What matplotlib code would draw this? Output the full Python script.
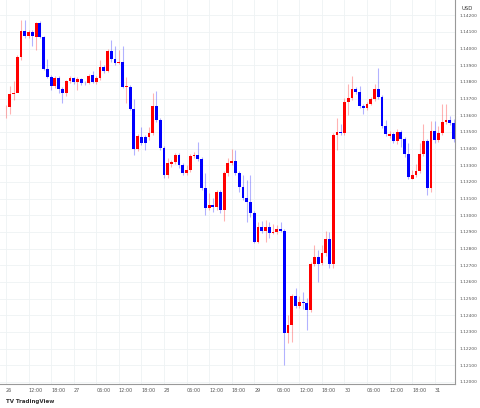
import numpy as np
import matplotlib.pyplot as plt

# hourly candles, price = 1.12000 + value / 10000
opens = [164.7, 165, 172.8, 173.4, 195, 210.6, 207.6, 210, 207, 215.4,
         207, 187.8, 183, 177.6, 182.4, 175.8, 173.4, 180.6, 182.4, 180,
         181.8, 179.4, 179.1, 184.2, 180, 182.4, 189, 186.6, 198.6, 193.8,
         191.4, 192, 177, 177, 163.8, 139.8, 147, 147, 147, 149.4,
         165.6, 157.2, 140.4, 124.2, 130.8, 132, 136.2, 130.2, 125.4, 127.2,
         135.6, 136.2, 133.8, 116.4, 104.4, 106.2, 105, 114, 103.2, 125.4,
         131.4, 132.6, 125.4, 117, 110.4, 108, 101.4, 84, 93, 90.6,
         93, 89.4, 90, 91.8, 90.6, 29.4, 34.2, 51.6, 45.6, 48,
         47.4, 43.2, 70.8, 75, 71.4, 77.4, 85.8, 70.8, 148.2, 150,
         149.4, 168, 170.4, 175.8, 174, 165.6, 164.4, 166.8, 169.8, 175.8,
         171, 153.6, 147.6, 148.8, 144.6, 150, 145.8, 136.8, 121.8, 124.2,
         126.6, 136.8, 144.6, 116.4, 150.6, 145.2, 149.4, 156, 157.2, 155.4]
closes = [165, 172.8, 173.4, 195, 210.6, 207.6, 210, 207.6, 215.4, 207,
          187.8, 183, 177.6, 182.4, 175.8, 173.4, 180.6, 182.4, 180, 181.8,
          179.4, 179.1, 183.6, 180, 182.4, 189, 186.6, 198.6, 193.8, 191.4,
          192, 177, 177.6, 163.8, 139.8, 147.6, 143.4, 143.4, 149.4, 165.6,
          157.2, 140.4, 124.2, 131.4, 132, 136.2, 130.2, 125.4, 127.2, 135.6,
          136.2, 133.8, 116.4, 104.4, 106.2, 105, 114, 103.2, 125.4, 131.4,
          132.6, 125.4, 117, 110.4, 108, 101.4, 84, 93, 90.6, 93,
          89.4, 90, 91.8, 90.6, 29.4, 34.2, 51.6, 45.6, 48, 47.4,
          43.2, 70.8, 75, 70.8, 77.4, 85.8, 70.8, 148.2, 150, 149.4,
          168, 170.4, 175.8, 174, 165.6, 164.4, 166.8, 169.8, 175.8, 171,
          153.6, 148.8, 148.8, 144.6, 150, 145.8, 136.8, 123, 124.2, 126.6,
          136.8, 144.6, 116.4, 150.6, 145.2, 149.4, 156, 157.2, 155.4, 145.8]
highs = [166.2, 177.6, 180.6, 196.2, 217.2, 217.2, 211.2, 211.2, 216, 216.6,
         207.6, 193.8, 184.2, 183.6, 183.6, 177, 181.2, 183.6, 183, 183,
         182.4, 180.6, 184.8, 186.6, 183.6, 193.2, 190.2, 199.8, 205.2, 201.6,
         199.2, 201.6, 183, 178.2, 169.8, 148.8, 153, 148.2, 153, 173.4,
         174.6, 158.4, 141.6, 134.4, 133.2, 137.4, 137.4, 131.4, 130.2, 136.8,
         138, 144, 135, 125.4, 113.4, 110.4, 115.2, 115.2, 126.6, 134.4,
         139.8, 139.2, 126.6, 124.2, 121.2, 124.2, 102.6, 96, 96.6, 97.2,
         96, 94.8, 94.2, 96, 91.8, 40.2, 52.8, 56.4, 51.6, 54,
         50.4, 72, 82.2, 79.2, 82.2, 90.6, 90, 149.4, 158.4, 154.8,
         170.4, 178.8, 183.6, 177, 177.6, 166.8, 168, 171, 178.8, 188.4,
         172.2, 157.2, 150.6, 150, 151.8, 151.2, 147, 143.4, 127.2, 130.8,
         143.4, 154.8, 145.8, 156.6, 156.6, 153.6, 166.8, 166.8, 159.6, 157.8]
lows = [158.4, 160.8, 169.2, 186.6, 193.2, 206.4, 206.4, 201.6, 199.2, 206.4,
        187.2, 182.4, 175.2, 176.4, 173.4, 167.4, 171.6, 179.4, 178.8, 175.2,
        178.2, 178.2, 178.8, 179.4, 178.8, 181.2, 185.4, 186, 192, 190.2,
        190.8, 176.4, 167.4, 163.2, 136.2, 138.6, 142.2, 139.2, 145.2, 148.2,
        156, 139.2, 122.4, 122.4, 129, 130.8, 128.4, 124.2, 124.2, 126,
        134.4, 132.6, 115.2, 100.2, 103.2, 102, 103.2, 101.4, 96.6, 123.6,
        130.2, 124.2, 114, 109.2, 96, 99, 83.4, 83.4, 89.4, 84,
        86.4, 88.8, 88.8, 90, 10.2, 23.4, 24, 44.4, 44.4, 43.8,
        31.2, 42, 69.6, 60, 70.2, 75.6, 68.4, 68.4, 139.2, 148.2,
        148.2, 160.2, 169.2, 172.8, 164.4, 160.8, 163.2, 166.2, 168.6, 169.8,
        152.4, 147.6, 146.4, 143.4, 142.8, 141, 135, 121.8, 121.8, 123,
        125.4, 135.6, 112.2, 114, 143.4, 144, 148.2, 154.8, 154.2, 144]

time_labels = ['26', '12:00', '18:00', '27', '06:00', '12:00', '18:00', '28', '06:00', '12:00',
               '18:00', '29', '06:00', '12:00', '18:00', '30', '06:00', '12:00', '18:00', '31']
price_ticks = [1.12 + k * 0.001 for k in range(23)]

o = 1.12 + np.array(opens) / 1e4
c = 1.12 + np.array(closes) / 1e4
h = 1.12 + np.array(highs) / 1e4
l = 1.12 + np.array(lows) / 1e4
x = np.arange(len(o))
up = c >= o
cols = np.where(up, '#ff0000', '#0000ff')

fig = plt.figure(figsize=(4.8, 4.08), dpi=100)
ax = fig.add_axes([0, 0.059, 0.948, 0.941])

ax.vlines(x, l, h, colors=cols, linewidth=0.8, alpha=0.3)
body = np.maximum(np.abs(c - o), 0.00003)
ax.bar(x, body, bottom=np.minimum(o, c), width=0.75, color=cols, linewidth=0)

ax.set_xlim(-1.6, 119.4)
ax.set_ylim(1.11988, 1.14292)
ax.set_xticks(np.arange(0, 120, 6))
ax.set_xticklabels(time_labels)
ax.set_yticks(price_ticks)
ax.set_yticklabels(['%.5f' % p for p in price_ticks])
ax.yaxis.tick_right()
ax.tick_params(axis='x', length=0, labelsize=3.5, labelcolor='#555555', pad=3)
ax.tick_params(axis='y', length=0, labelsize=3.2, labelcolor='#555555', pad=3)
for lbl in ax.get_xticklabels():
    lbl.set_horizontalalignment('left')
ax.grid(color='#eef2f4', linewidth=0.6)
ax.set_axisbelow(True)
for s in ['top', 'left']:
    ax.spines[s].set_visible(False)
ax.spines['right'].set_color('#999999')
ax.spines['bottom'].set_color('#999999')
ax.spines['right'].set_linewidth(0.8)
ax.spines['bottom'].set_linewidth(0.8)

fig.text(0.962, 0.985, 'USD', fontsize=3.8, color='#333333', va='top')
fig.text(0.012, 0.012, 'TV TradingView', fontsize=4, color='#333333', weight='bold')

fig.savefig('out.png', dpi=100)
